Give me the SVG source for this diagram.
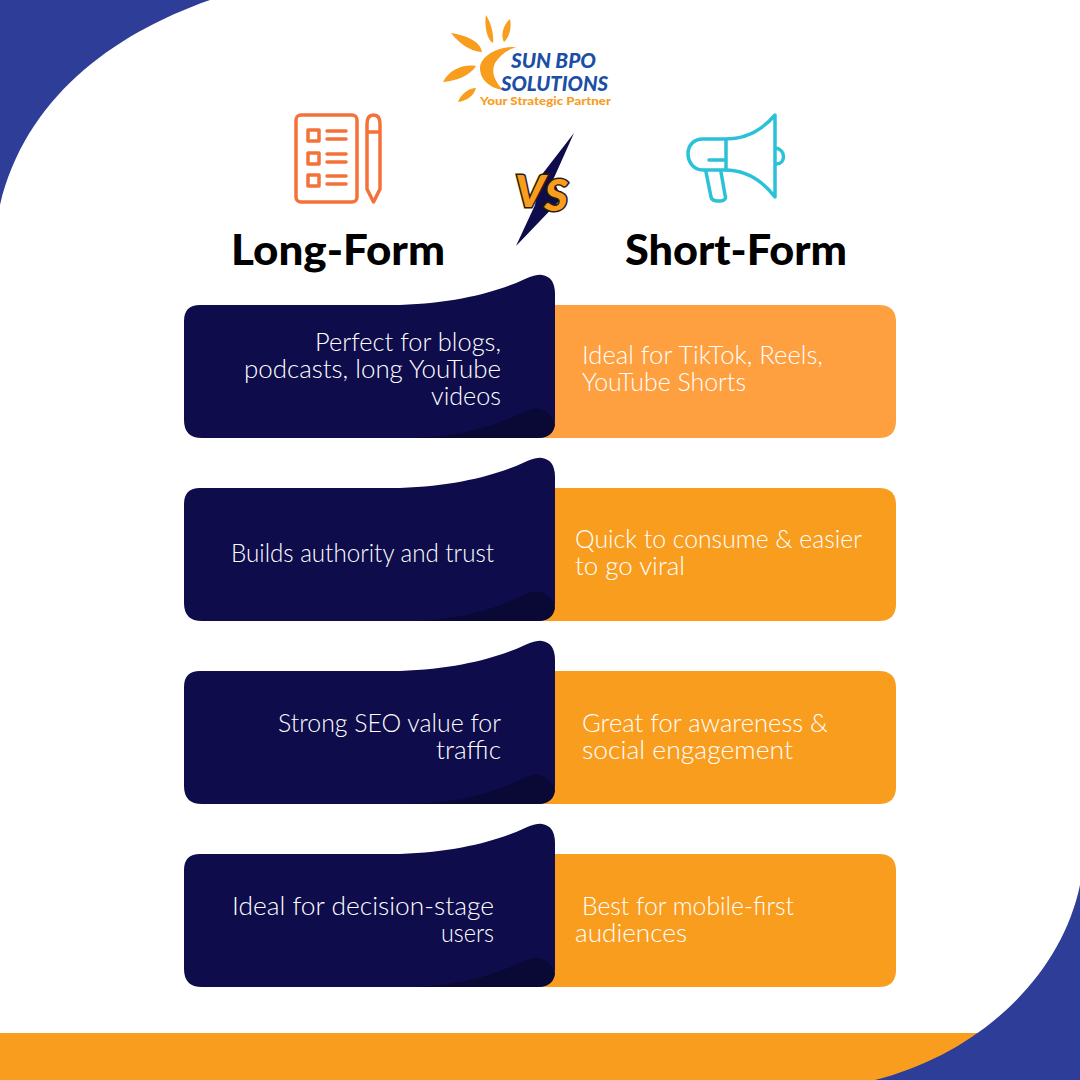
<svg xmlns="http://www.w3.org/2000/svg" width="1080" height="1080" viewBox="0 0 1080 1080">
<style>
.t{font-family:"Lato","Liberation Sans",sans-serif;font-weight:300;font-size:25px;fill:#fff}
.h{font-family:"Lato","Liberation Sans",sans-serif;font-weight:900;font-size:42px;fill:#000}
.o{fill:#f99d1f}
.ic{fill:none;stroke:#f4713a;stroke-width:3.500;stroke-linejoin:round;stroke-linecap:round}
.mg{fill:none;stroke:#2bc1d8;stroke-width:3.500;stroke-linejoin:round;stroke-linecap:round}
.lg{font-family:"Lato","Liberation Sans",sans-serif;font-weight:900;font-style:italic;font-size:20px;fill:#1b4ea5}
.vs{font-family:"Lato","Liberation Sans",sans-serif;font-weight:900;font-style:italic;font-size:44px}
</style>
<defs>
<g id="dark">
<path d="M200 305H400C455 303 495 293 525 279Q537 274 542 275Q555 277 555 294V420Q555 438 537 438H202Q184 438 184 420V321Q184 305 200 305Z" fill="#0e0c4b"/>
<path d="M415 438C460 436 490 428 522 413Q537 405 545 411Q553 416 555 425Q553 438 537 438Z" fill="#0a0936"/>
</g>
<path id="org" d="M540 305H879Q896 305 896 322V421Q896 438 879 438H540Z"/>
</defs>
<rect width="1080" height="1080" fill="#fff"/>
<g id="background">
<path d="M0 0H210C110 35 25 100 0 205Z" fill="#2e3d97"/>
<rect x="0" y="1033" width="1080" height="47" fill="#f99d1f"/>
<path d="M1080 885C1060 980 975 1055 875 1080H1080Z" fill="#2e3d97"/>
</g>
<g id="logo">
<path d="M517 47C495 46 480 58 480 68C480 80 490 88 503 90C494 80 491 72 495 63C500 55 508 49 517 47Z" fill="#f99d1f"/>
<path d="M451 33C466 35 481 42 482 52C470 52 458 42 451 33Z M486 15C491 23 494 34 493 43C487 40 484 25 486 15Z M510 19C512 28 509 38 504 42C500 35 504 24 510 19Z M443 82C449 70 463 64 476 66C470 76 455 81 443 82Z M458 102C461 94 469 88 476 88C474 96 466 101 458 102Z" fill="#f99d1f"/>
<text class="lg" x="511" y="68" textLength="85" lengthAdjust="spacingAndGlyphs">SUN BPO</text>
<text class="lg" x="501" y="91" textLength="107" lengthAdjust="spacingAndGlyphs">SOLUTIONS</text>
<text x="480" y="105" textLength="131" lengthAdjust="spacingAndGlyphs" font-family="Lato, sans-serif" font-weight="900" font-size="11.500" fill="#f99d1f">Your Strategic Partner</text>
</g>
<g id="icon-document" class="ic">
<rect x="296" y="115" width="61" height="87" rx="5"/>
<rect x="308" y="130" width="11" height="11"/><rect x="308" y="153" width="11" height="11"/><rect x="308" y="175" width="11" height="11"/>
<path d="M327 131H346M327 139H346M327 154H346M327 162H346M327 176H346M327 184H346"/>
<path d="M367 124Q367 115 373.500 115Q380 115 380 124V189L373.500 202L367 189Z M367 132H380"/>
</g>
<g id="icon-megaphone" class="mg">
<path d="M775 115V197C758 175 740 170 725 170H703C692 170 688 160 688 154C688 146 693 139 703 139H725C740 139 758 135 775 115Z"/>
<path d="M726 140V170M709 160H726M706 172L711 197Q712 201 718 201H721Q727 200 725 195L721 172M776 148C786 150 786 164 776 164"/>
</g>
<g id="vs">
<path d="M574 133L540 177L535 205L516 246L562 198L553 180Z" fill="#0e0c4b"/>
<text class="vs" x="515" y="207" fill="#f99d1f" stroke="#2a1d0a" stroke-width="3" paint-order="stroke" textLength="53" lengthAdjust="spacingAndGlyphs"><tspan>V</tspan><tspan dy="4">S</tspan></text>
</g>
<g id="heading-long"><text class="h" x="231" y="265" textLength="214" lengthAdjust="spacingAndGlyphs">Long-Form</text></g>
<g id="heading-short"><text class="h" x="625" y="265" textLength="222" lengthAdjust="spacingAndGlyphs">Short-Form</text></g>

<g id="row-1-short">
<use href="#org" fill="#fea040"/>
<text class="t" x="582" y="364" textLength="241" lengthAdjust="spacingAndGlyphs">Ideal for TikTok, Reels,</text>
<text class="t" x="582" y="391" textLength="164" lengthAdjust="spacingAndGlyphs">YouTube Shorts</text>
</g>
<g id="row-1-long">
<use href="#dark"/>
<text class="t" x="315" y="351" textLength="186" lengthAdjust="spacingAndGlyphs">Perfect for blogs,</text>
<text class="t" x="244" y="378" textLength="257" lengthAdjust="spacingAndGlyphs">podcasts, long YouTube</text>
<text class="t" x="431" y="405" textLength="70" lengthAdjust="spacingAndGlyphs">videos</text>
</g>
<g id="row-2-short">
<use href="#org" y="183" class="o"/>
<text class="t" x="575" y="548" textLength="287" lengthAdjust="spacingAndGlyphs">Quick to consume &amp; easier</text>
<text class="t" x="575" y="575" textLength="110" lengthAdjust="spacingAndGlyphs">to go viral</text>
</g>
<g id="row-2-long">
<use href="#dark" y="183"/>
<text class="t" x="231" y="562" textLength="263" lengthAdjust="spacingAndGlyphs">Builds authority and trust</text>
</g>
<g id="row-3-short">
<use href="#org" y="366" class="o"/>
<text class="t" x="582" y="732" textLength="246" lengthAdjust="spacingAndGlyphs">Great for awareness &amp;</text>
<text class="t" x="582" y="759" textLength="211" lengthAdjust="spacingAndGlyphs">social engagement</text>
</g>
<g id="row-3-long">
<use href="#dark" y="366"/>
<text class="t" x="278" y="732" textLength="223" lengthAdjust="spacingAndGlyphs">Strong SEO value for</text>
<text class="t" x="436" y="759" textLength="65" lengthAdjust="spacingAndGlyphs">traffic</text>
</g>
<g id="row-4-short">
<use href="#org" y="549" class="o"/>
<text class="t" x="582" y="915" textLength="212" lengthAdjust="spacingAndGlyphs">Best for mobile-first</text>
<text class="t" x="575" y="942" textLength="112" lengthAdjust="spacingAndGlyphs">audiences</text>
</g>
<g id="row-4-long">
<use href="#dark" y="549"/>
<text class="t" x="232" y="915" textLength="262" lengthAdjust="spacingAndGlyphs">Ideal for decision-stage</text>
<text class="t" x="441" y="942" textLength="53" lengthAdjust="spacingAndGlyphs">users</text>
</g>
</svg>
